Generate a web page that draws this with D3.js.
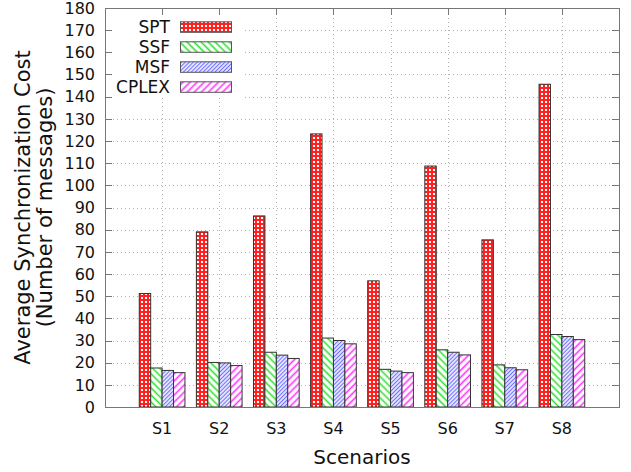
<!DOCTYPE html>
<html>
<head>
<meta charset="utf-8">
<script src="https://cdn.jsdelivr.net/npm/d3@7"></script>
<style>
  body { margin: 0; background: #fff; }
  svg { font-family: "DejaVu Sans", sans-serif; }
</style>
</head>
<body>
<svg id="chart"></svg>
<script>
var width = 631,
    height = 472;

// Data
var scenarios = ['S1', 'S2', 'S3', 'S4', 'S5', 'S6', 'S7', 'S8'];
var seriesNames = ['SPT', 'SSF', 'MSF', 'CPLEX'];
var spt = [51.2, 79, 86.2, 123.2, 56.9, 108.7, 75.4, 145.6];
var ssf = [17.6, 20.1, 24.7, 31.1, 17.0, 25.8, 19.0, 32.7];
var msf = [16.5, 19.9, 23.4, 30.0, 16.2, 24.7, 17.7, 31.8];
var cplex = [15.5, 18.7, 21.9, 28.5, 15.5, 23.5, 16.8, 30.4];
var yTicks = d3.range(0, 181, 10);

var seriesValues = [spt, ssf, msf, cplex];

var margin = { left: 105, right: 12, top: 8, bottom: 65 };

var svg = d3.select('#chart')
    .attr('width', width)
    .attr('height', height);

// x: category index, gnuplot-like range [-1, 8]
var x = d3.scaleLinear()
    .domain([-1, scenarios.length])
    .range([margin.left, width - margin.right]);

var y = d3.scaleLinear()
    .domain([0, 180])
    .range([height - margin.bottom, margin.top]);

var bw = (x(1) - x(0)) / 5;

// Fill patterns
var defs = svg.append('defs');

var pSpt = defs.append('pattern')
    .attr('id', 'p0')
    .attr('patternUnits', 'userSpaceOnUse')
    .attr('width', 4).attr('height', 4);
pSpt.append('rect').attr('width', 4).attr('height', 4).attr('fill', '#ff2020');
pSpt.append('rect').attr('x', 1).attr('y', 1).attr('width', 2).attr('height', 2).attr('fill', '#fff');

function stripes(id, color, gap, angle, sw) {
    var p = defs.append('pattern')
        .attr('id', id)
        .attr('patternUnits', 'userSpaceOnUse')
        .attr('width', gap).attr('height', gap)
        .attr('patternTransform', 'rotate(' + angle + ')');
    p.append('rect').attr('width', gap).attr('height', gap).attr('fill', '#fff');
    p.append('line')
        .attr('x1', gap / 2).attr('y1', 0)
        .attr('x2', gap / 2).attr('y2', gap)
        .attr('stroke', color)
        .attr('stroke-width', sw);
}
stripes('p1', '#30e030', 5, -45, 1.6);
stripes('p2', '#7070ff', 2.8, 45, 1.3);
stripes('p3', '#ff30ff', 5, 45, 1.6);

// Grid
var grid = svg.append('g')
    .attr('stroke', '#b0b0b0')
    .attr('stroke-width', 1)
    .attr('stroke-dasharray', '1,3');

grid.selectAll('line.h')
    .data(yTicks.slice(1, -1))
    .enter().append('line')
    .attr('x1', x.range()[0]).attr('x2', x.range()[1])
    .attr('y1', function(d) { return Math.round(y(d)) + 0.5; })
    .attr('y2', function(d) { return Math.round(y(d)) + 0.5; });

grid.selectAll('line.v')
    .data(scenarios)
    .enter().append('line')
    .attr('x1', function(d, i) { return Math.round(x(i)) + 0.5; })
    .attr('x2', function(d, i) { return Math.round(x(i)) + 0.5; })
    .attr('y1', y.range()[0]).attr('y2', y.range()[1]);

// Bars
var bars = svg.append('g');
seriesValues.forEach(function(vals, j) {
    bars.selectAll('rect.s' + j)
        .data(vals)
        .enter().append('rect')
        .attr('x', function(d, i) { return x(i) - 2 * bw + j * bw; })
        .attr('y', function(d) { return y(d); })
        .attr('width', bw)
        .attr('height', function(d) { return y(0) - y(d); })
        .attr('fill', 'url(#p' + j + ')')
        .attr('stroke', '#333')
        .attr('stroke-width', 1);
});

// Legend (opaque key box)
svg.append('rect')
    .attr('x', margin.left + 1).attr('y', margin.top + 1)
    .attr('width', 136).attr('height', 89)
    .attr('fill', '#fff');

var legend = svg.append('g');
seriesNames.forEach(function(name, j) {
    var base = 33.3 + j * 20;
    legend.append('text')
        .attr('x', 170).attr('y', base)
        .attr('text-anchor', 'end')
        .attr('font-size', 17)
        .attr('fill', '#111')
        .text(name);
    legend.append('rect')
        .attr('x', 180.5).attr('y', base - 11.5)
        .attr('width', 51).attr('height', 10.5)
        .attr('fill', 'url(#p' + j + ')')
        .attr('stroke', '#555')
        .attr('stroke-width', 1);
});

// Frame and ticks
var tickLen = 7;
var axisG = svg.append('g')
    .attr('stroke', '#777')
    .attr('stroke-width', 1);

axisG.append('rect')
    .attr('x', x.range()[0] + 0.5).attr('y', y.range()[1] + 0.5)
    .attr('width', x.range()[1] - x.range()[0])
    .attr('height', y.range()[0] - y.range()[1])
    .attr('fill', 'none');

yTicks.forEach(function(t) {
    var yy = Math.round(y(t)) + 0.5;
    axisG.append('line')
        .attr('x1', x.range()[0]).attr('x2', x.range()[0] + tickLen)
        .attr('y1', yy).attr('y2', yy);
    axisG.append('line')
        .attr('x1', x.range()[1]).attr('x2', x.range()[1] - tickLen)
        .attr('y1', yy).attr('y2', yy);
});

scenarios.forEach(function(s, i) {
    var xx = Math.round(x(i)) + 0.5;
    axisG.append('line')
        .attr('x1', xx).attr('x2', xx)
        .attr('y1', y.range()[1]).attr('y2', y.range()[1] + tickLen);
});

// Tick labels
svg.append('g').selectAll('text')
    .data(yTicks)
    .enter().append('text')
    .attr('x', 95)
    .attr('y', function(d) { return y(d); })
    .attr('dy', '0.36em')
    .attr('text-anchor', 'end')
    .attr('font-size', 16)
    .attr('fill', '#111')
    .text(function(d) { return d; });

svg.append('g').selectAll('text')
    .data(scenarios)
    .enter().append('text')
    .attr('x', function(d, i) { return x(i); })
    .attr('y', 434)
    .attr('text-anchor', 'middle')
    .attr('font-size', 16)
    .attr('fill', '#111')
    .text(function(d) { return d; });

// Axis titles
svg.append('text')
    .attr('x', x(3.5))
    .attr('y', 464)
    .attr('text-anchor', 'middle')
    .attr('font-size', 20)
    .attr('fill', '#111')
    .text('Scenarios');

var yTitle = svg.append('text')
    .attr('transform', 'translate(0,' + y(90) + ') rotate(-90)')
    .attr('text-anchor', 'middle')
    .attr('font-size', 21)
    .attr('fill', '#111');
yTitle.append('tspan').attr('x', 0).attr('y', 30).text('Average Synchronization Cost');
yTitle.append('tspan').attr('x', 0).attr('y', 52).text('(Number of messages)');
</script>
</body>
</html>
